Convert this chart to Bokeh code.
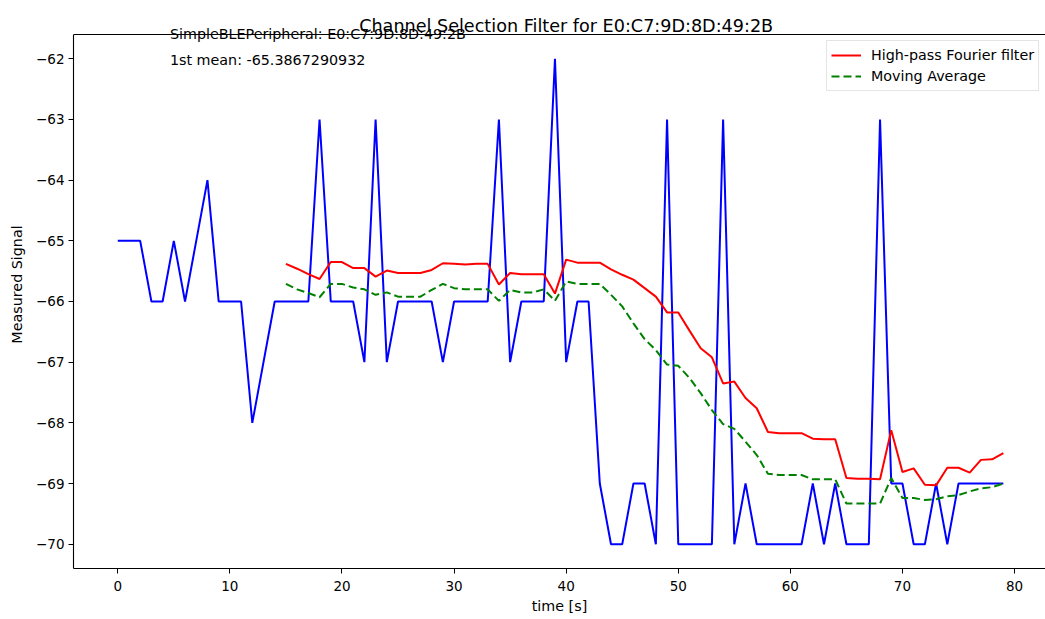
from bokeh.plotting import figure
from bokeh.models import Range1d, FixedTicker, Label, Legend, LegendItem, Span
from bokeh.embed import file_html
from bokeh.resources import INLINE

# ---- data ----
t_raw = list(range(0, 80))
rssi_raw = [-65, -65, -65, -66, -66, -65, -66, -65, -64, -66,
            -66, -66, -68, -67, -66, -66, -66, -66, -63, -66,
            -66, -66, -67, -63, -67, -66, -66, -66, -66, -67,
            -66, -66, -66, -66, -63, -67, -66, -66, -66, -62,
            -67, -66, -66, -69, -70, -70, -69, -69, -70, -63,
            -70, -70, -70, -70, -63, -70, -69, -70, -70, -70,
            -70, -70, -69, -70, -69, -70, -70, -70, -63, -69,
            -69, -70, -70, -69, -70, -69, -69, -69, -69, -69]

t_filt = list(range(15, 80))
fourier = [-65.38, -65.46, -65.55, -65.63, -65.35, -65.35, -65.45, -65.45, -65.59, -65.49,
           -65.53, -65.53, -65.53, -65.48, -65.37, -65.38, -65.39, -65.38, -65.38, -65.72,
           -65.53, -65.55, -65.55, -65.55, -65.87, -65.31, -65.36, -65.36, -65.36, -65.47,
           -65.56, -65.64, -65.78, -65.92, -66.18, -66.18, -66.48, -66.77, -66.92, -67.35,
           -67.32, -67.59, -67.76, -68.15, -68.17, -68.17, -68.17, -68.26, -68.27, -68.27,
           -68.91, -68.92, -68.92, -68.93, -68.12, -68.81, -68.75, -69.02, -69.03, -68.74,
           -68.74, -68.82, -68.61, -68.60, -68.50]
moving_avg = [-65.71, -65.80, -65.86, -65.93, -65.71, -65.71, -65.77, -65.80, -65.89, -65.85,
              -65.92, -65.92, -65.92, -65.81, -65.71, -65.78, -65.80, -65.80, -65.80, -65.99,
              -65.81, -65.85, -65.85, -65.80, -65.99, -65.67, -65.71, -65.71, -65.71, -65.89,
              -66.08, -66.36, -66.62, -66.80, -67.04, -67.06, -67.26, -67.51, -67.79, -68.02,
              -68.10, -68.31, -68.53, -68.84, -68.86, -68.86, -68.86, -68.93, -68.93, -68.93,
              -69.33, -69.33, -69.33, -69.33, -68.91, -69.24, -69.24, -69.27, -69.26, -69.21,
              -69.19, -69.13, -69.08, -69.06, -69.00]

x_ticks = [0, 10, 20, 30, 40, 50, 60, 70, 80]
y_ticks = [-70, -69, -68, -67, -66, -65, -64, -63, -62]

title_text = "Channel Selection Filter for E0:C7:9D:8D:49:2B"
device_text = "SimpleBLEPeripheral: E0:C7:9D:8D:49:2B"
mean_text = "1st mean: -65.3867290932"
legend_labels = ["High-pass Fourier filter", "Moving Average"]

FONT = "DejaVu Sans"
Y_BOTTOM, Y_AXES_TOP, Y_CANVAS_TOP = -70.4, -61.6, -61.04

p = figure(width=1045, height=619,
           x_range=Range1d(-3.95, 82.76), y_range=Range1d(Y_BOTTOM, Y_CANVAS_TOP),
           output_backend="svg", toolbar_location=None, title=None,
           min_border_left=73, min_border_right=0,
           min_border_top=0, min_border_bottom=51)
p.outline_line_color = None
p.grid.visible = False
p.background_fill_color = "white"
p.border_fill_color = "white"

rb = p.line(t_raw, rssi_raw, line_color="#0000ff", line_width=2)
rr = p.line(t_filt, fourier, line_color="#ff0000", line_width=2)
rg = p.line(t_filt, moving_avg, line_color="#008000", line_width=2, line_dash="8 4")

for ax in (p.xaxis[0], p.yaxis[0]):
    ax.axis_line_color = "black"
    ax.axis_line_width = 1.1
    ax.major_tick_line_color = "black"
    ax.major_tick_out = 5
    ax.major_tick_in = 0
    ax.minor_tick_line_color = None
    ax.major_label_text_color = "black"
    ax.major_label_text_font = FONT
    ax.major_label_text_font_size = "13.5px"
    ax.axis_label_text_font = FONT
    ax.axis_label_text_font_size = "14.3px"
    ax.axis_label_text_font_style = "normal"
    ax.axis_label_text_color = "black"
    ax.major_label_standoff = 4

p.xaxis.ticker = FixedTicker(ticks=x_ticks)
p.yaxis.ticker = FixedTicker(ticks=y_ticks)
p.yaxis.bounds = (Y_BOTTOM, Y_AXES_TOP)
p.yaxis.major_label_overrides = {t: "\u2212%d" % (-t) for t in y_ticks}
p.xaxis.major_label_standoff = 7
p.xaxis.axis_label = "time [s]"
p.yaxis.axis_label = "Measured Signal"
p.xaxis.axis_label_standoff = 4
p.yaxis.axis_label_standoff = 8

# top spine of the axes box
p.add_layout(Span(location=Y_AXES_TOP, dimension="width", line_color="black", line_width=1.1))

legend = Legend(items=[LegendItem(label=legend_labels[0], renderers=[rr]),
                       LegendItem(label=legend_labels[1], renderers=[rg])],
                location=(753, 477), margin=0, padding=4, spacing=1,
                glyph_width=30, glyph_height=20, label_standoff=10,
                label_text_font=FONT, label_text_font_size="14.3px",
                label_text_color="black",
                border_line_color="#cccccc", border_line_width=1,
                background_fill_alpha=0.8)
p.add_layout(legend)

p.add_layout(Label(x=40.0, y=-61.468, text=title_text, text_align="center",
                   text_baseline="alphabetic", text_font=FONT,
                   text_font_size="17.6px", text_color="black"))
p.add_layout(Label(x=4.65, y=-61.588, text=device_text, text_align="left",
                   text_baseline="alphabetic", text_font=FONT,
                   text_font_size="14.3px", text_color="black"))
p.add_layout(Label(x=4.65, y=-62.028, text=mean_text, text_align="left",
                   text_baseline="alphabetic", text_font=FONT,
                   text_font_size="14.3px", text_color="black"))

open("out.html", "w").write(file_html(p, INLINE))
